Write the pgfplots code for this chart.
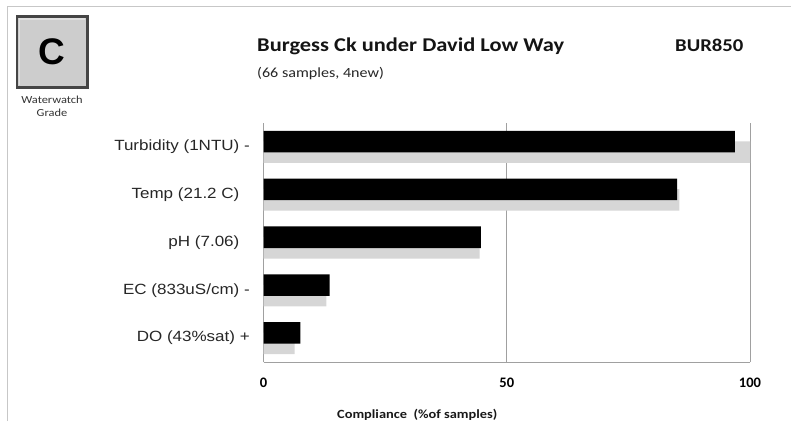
\documentclass[border=0pt]{standalone}
\usepackage{pgfplots}
\pgfplotsset{compat=1.18}
\usepackage{graphicx}
\usepackage{fontspec}
\setmainfont{Carlito}
\newfontfamily\arial{Liberation Sans}
\newcommand{\sx}[1]{\scalebox{1.15}[1]{#1}}
\definecolor{barGrey}{HTML}{D6D6D6}
\definecolor{axGrey}{HTML}{A0A0A0}
\definecolor{boxFill}{HTML}{CDCDCD}
\definecolor{boxEdge}{HTML}{454545}
\begin{document}
\begin{tikzpicture}[x=1pt,y=1pt]
\useasboundingbox (0,0) rectangle (791,-421);
% page frame
\draw[color=black!22, line width=1pt] (7,-421) -- (7,-6) -- (791,-6);
% grade box
\draw[fill=boxFill, draw=boxEdge, line width=2.5pt] (17,-16.5) rectangle (87.5,-87.5);
\draw[color=black!12, line width=1.2pt] (19.5,-85) -- (19.5,-19) -- (85,-19);
\node[inner sep=0, anchor=center] at (52,-52) {\fontsize{37}{40}\selectfont\arial\bfseries C};
\node[inner sep=0, anchor=center] at (52,-100) {\fontsize{10.8}{12}\selectfont\color{black!80}\sx{Waterwatch}};
\node[inner sep=0, anchor=center] at (52,-112.5) {\fontsize{10.8}{12}\selectfont\color{black!80}\sx{Grade}};
% titles
\node[inner sep=0, anchor=base west] at (257,-51) {\fontsize{19.5}{22}\selectfont\bfseries\color{black!92}\sx{Burgess Ck under David Low Way}};
\node[inner sep=0, anchor=base west] at (675,-51.5) {\fontsize{18}{22}\selectfont\bfseries\color{black!92}\sx{BUR850}};
\node[inner sep=0, anchor=base west] at (257,-77) {\fontsize{14}{16}\selectfont\color{black!85}\sx{(66 samples, 4new)}};
\node[inner sep=0, anchor=base west] at (337,-418) {\fontsize{12.5}{14}\selectfont\bfseries\color{black!90}\sx{Compliance\ \ (\%of samples)}};
\begin{axis}[
  at={(263.5pt,-362pt)}, anchor=south west,
  scale only axis, width=486.5pt, height=239pt,
  xmin=0, xmax=100, ymin=-0.5, ymax=4.5,
  enlargelimits=false,
  axis x line*=bottom, axis y line*=left,
  axis line style={color=axGrey, line width=1pt},
  xmajorgrids, grid style={color=axGrey, line width=1pt},
  major tick length=0pt,
  xtick={0,50,100},
  xticklabels={\textbf{0},\textbf{50},\textbf{100}},
  xticklabel style={anchor=center, yshift=-21pt, inner sep=0pt, font=\fontsize{14.5}{16}\selectfont},
  ytick={0,1,2,3,4},
  yticklabel style={anchor=east, inner sep=0pt, xshift=-13.5pt, font=\arial\fontsize{14.8}{16}\selectfont\color{black!85}},
  yticklabels={{\sx{DO (43\%sat) +}},{\sx{EC (833uS/cm) -}},{\sx{pH (7.06)\phantom{\ -}}},{\sx{Temp (21.2 C)\phantom{\ -}}},{\sx{Turbidity (1NTU) -}}},
]
\addplot[xbar, fill=barGrey, draw=none, bar width=0.45, bar shift=-0.11]
  coordinates {(100,4) (85.5,3) (44.4,2) (12.9,1) (6.4,0)};
\addplot[xbar, fill=black, draw=none, bar width=0.45, bar shift=0.11]
  coordinates {(96.9,4) (85,3) (44.7,2) (13.6,1) (7.6,0)};
\end{axis}
\end{tikzpicture}
\end{document}
